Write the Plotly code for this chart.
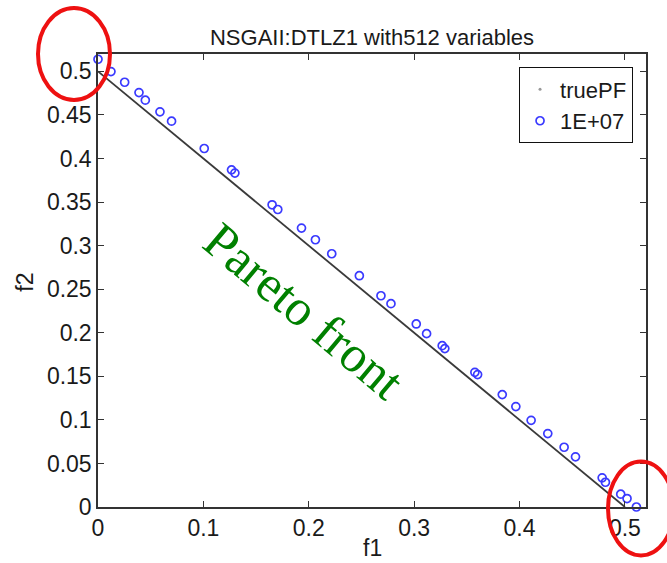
import plotly.graph_objects as go

# True Pareto front of DTLZ1 (2 objectives): f1 + f2 = 0.5
pf_f1 = [0.0, 0.5]
pf_f2 = [0.5, 0.0]

# NSGA-II solutions after 1E+07 evaluations
sol_f1 = [0.0, 0.0123, 0.0253, 0.0389, 0.0449, 0.0588, 0.0698, 0.1008,
          0.1267, 0.1299, 0.1652, 0.1706, 0.1931, 0.2063, 0.2218, 0.2480,
          0.2685, 0.2780, 0.3020, 0.3118, 0.3266, 0.3291, 0.3576, 0.3602,
          0.3836, 0.3965, 0.4110, 0.4268, 0.4423, 0.4531, 0.4784, 0.4815,
          0.4960, 0.5020, 0.5109]
sol_f2 = [0.514, 0.4998, 0.4876, 0.4757, 0.4670, 0.4536, 0.4429, 0.4115,
          0.3870, 0.3833, 0.3469, 0.3415, 0.3202, 0.3068, 0.2907, 0.2655,
          0.2425, 0.2334, 0.2101, 0.1990, 0.1852, 0.1818, 0.1546, 0.1520,
          0.1290, 0.1153, 0.0995, 0.0843, 0.0686, 0.0576, 0.0335, 0.0284,
          0.0147, 0.0097, 0.0000]

x_ticks = [0, 0.1, 0.2, 0.3, 0.4, 0.5]
x_tick_text = ["0", "0.1", "0.2", "0.3", "0.4", "0.5"]
y_ticks = [0, 0.05, 0.1, 0.15, 0.2, 0.25, 0.3, 0.35, 0.4, 0.45, 0.5]
y_tick_text = ["0", "0.05", "0.1", "0.15", "0.2", "0.25", "0.3", "0.35",
               "0.4", "0.45", "0.5"]

FONT = "Liberation Sans, Arial, Helvetica, sans-serif"
INK = "#1a1a1a"

fig = go.Figure()

# true front drawn as a solid line
fig.add_trace(go.Scatter(
    x=pf_f1, y=pf_f2, mode="lines",
    line=dict(color="#3a3a3a", width=1.8),
    showlegend=False, hoverinfo="skip",
))
# legend entry for the true front (dot marker)
fig.add_trace(go.Scatter(
    x=[None], y=[None], mode="markers", name="truePF",
    marker=dict(symbol="circle", size=3, color="#999999"),
))
fig.add_trace(go.Scatter(
    x=sol_f1, y=sol_f2, mode="markers", name="1E+07",
    marker=dict(symbol="circle-open", size=8,
                line=dict(color="#3a3aff", width=1.7), color="#3a3aff"),
    cliponaxis=False,
))

axis_common = dict(
    showgrid=False, zeroline=False, showline=True, mirror="ticks",
    linecolor="#333333", linewidth=1.5, ticks="inside", ticklen=6,
    tickwidth=1.3, tickcolor="#333333",
    tickfont=dict(family=FONT, size=23, color=INK),
)

fig.update_layout(
    width=667, height=563,
    margin=dict(l=98, r=21, t=54, b=55.5),
    paper_bgcolor="white", plot_bgcolor="white",
    title=dict(text="NSGAII:DTLZ1 with512 variables",
               x=(372 / 667), xanchor="center",
               y=1 - 37 / 563, yanchor="middle", yref="container",
               font=dict(family=FONT, size=22, color=INK)),
    xaxis=dict(range=[0, 0.52], tickvals=x_ticks, ticktext=x_tick_text,
               **axis_common),
    yaxis=dict(range=[0, 0.52], tickvals=y_ticks, ticktext=y_tick_text,
               **axis_common),
    legend=dict(x=0.976, xanchor="right", y=0.971, yanchor="top",
                bordercolor="#111111", borderwidth=1.2, bgcolor="white",
                font=dict(family=FONT, size=22, color=INK),
                itemwidth=30, tracegroupgap=0),
    showlegend=True,
)

fig.add_annotation(text="f1", xref="paper", yref="paper",
                   x=0.5, y=(507.5 - 549) / 453.5,
                   xanchor="center", yanchor="middle", showarrow=False,
                   font=dict(family=FONT, size=23, color=INK))
fig.add_annotation(text="f2", xref="paper", yref="paper",
                   x=(25 - 98) / 548, y=(507.5 - 283) / 453.5,
                   xanchor="center", yanchor="middle",
                   textangle=-90, showarrow=False,
                   font=dict(family=FONT, size=23, color=INK))
fig.add_annotation(text="Pareto front", xref="paper", yref="paper",
                   x=(304 - 98) / 548, y=(507.5 - 311) / 453.5,
                   xanchor="center", yanchor="middle",
                   textangle=40, showarrow=False,
                   font=dict(family="Liberation Serif, Times New Roman, serif",
                             size=51, color="#008000"))

# highlight circles at both ends of the front
fig.add_shape(type="circle", xref="paper", yref="paper",
              x0=(38 - 98) / 548, x1=(110 - 98) / 548,
              y0=(507.5 - 100) / 453.5, y1=(507.5 - 8) / 453.5,
              line=dict(color="#ee1111", width=4))
fig.add_shape(type="circle", xref="paper", yref="paper",
              x0=(608 - 98) / 548, x1=(674 - 98) / 548,
              y0=(507.5 - 556) / 453.5, y1=(507.5 - 462) / 453.5,
              line=dict(color="#ee1111", width=4))

fig.write_html("out.html")
